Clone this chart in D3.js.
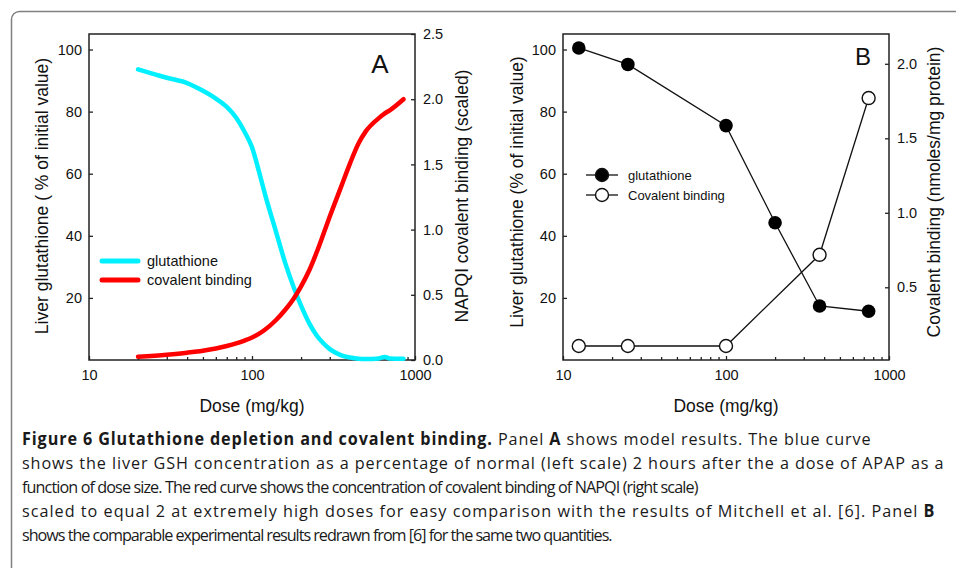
<!DOCTYPE html>
<html>
<head>
<meta charset="utf-8">
<script src="https://cdn.jsdelivr.net/npm/d3@7"></script>
<style>
  body { margin: 0; background: #fff; }
  svg { display: block; font-family: "Liberation Sans", Arial, sans-serif; }
</style>
</head>
<body>
<svg id="vis" width="956" height="568"></svg>
<script>
// ---- panel A : model results ----
var doseA = [20, 30, 40, 50, 60, 70, 80, 90, 100, 110, 120, 140, 160, 180, 200, 225, 250, 275, 300, 350, 400, 450, 500, 600, 650, 700, 850];
var gshA  = [93.6, 90.9, 89.2, 86.7, 84.2, 81.5, 78.0, 73.5, 68.5, 61, 53.5, 41.5, 31.2, 23.5, 17.5, 11.7, 7.8, 5.3, 3.5, 1.6, 0.8, 0.4, 0.3, 0.5, 1.0, 0.5, 0.4];
var bindA = [0.025, 0.041, 0.056, 0.071, 0.088, 0.107, 0.127, 0.149, 0.172, 0.2, 0.232, 0.305, 0.385, 0.47, 0.565, 0.69, 0.83, 0.97, 1.1, 1.32, 1.51, 1.66, 1.755, 1.855, 1.89, 1.915, 2.0];

// ---- panel B : experimental results ----
var doseGshB  = [12.5, 25, 100, 200, 375, 750];
var gshB      = [100.5, 95.2, 75.5, 44.2, 17.4, 15.7];
var doseBindB = [12.5, 25, 100, 375, 750];
var bindB     = [0.106, 0.106, 0.106, 0.718, 1.77];

var xTicks = [10, 100, 1000];
var xMinor = [20, 30, 40, 50, 60, 70, 80, 90, 200, 300, 400, 500, 600, 700, 800, 900];
var leftTicks = [20, 40, 60, 80, 100];
var rightTicksA = [0.0, 0.5, 1.0, 1.5, 2.0, 2.5];
var rightTicksB = [0.5, 1.0, 1.5, 2.0];

var captionLines = [
  [["Figure 6 Glutathione depletion and covalent binding.", true], [" Panel ", false], ["A", true], [" shows model results. The blue curve", false]],
  [["shows the liver GSH concentration as a percentage of normal (left scale) 2 hours after the a dose of APAP as a", false]],
  [["function of dose size. The red curve shows the concentration of covalent binding of NAPQI (right scale)", false]],
  [["scaled to equal 2 at extremely high doses for easy comparison with the results of Mitchell et al. [6]. Panel ", false], ["B", true]],
  [["shows the comparable experimental results redrawn from [6] for the same two quantities.", false]]
];
// right end of each caption line
var captionEnds = [872, 945, 698, 936, 612];

var svg = d3.select("#vis");

// outer frame (runs off the right and bottom edge)
svg.append("rect")
    .attr("x", 11.5).attr("y", 11.5)
    .attr("width", 990).attr("height", 620)
    .attr("rx", 8)
    .attr("fill", "none")
    .attr("stroke", "#808080")
    .attr("stroke-width", 1.5);

function drawPanel(p) {
  var g = svg.append("g");
  var x = d3.scaleLog().domain([10, 1000]).range([p.x0, p.x1]);
  var yl = d3.scaleLinear().domain([0, 105]).range([p.y1, p.y0]);
  var yr = d3.scaleLinear().domain(p.rightDomain).range([p.y1, p.y0]);

  // axes, ticks point inward
  g.append("g").attr("transform", "translate(0," + p.y1 + ")")
      .call(d3.axisBottom(x).tickValues(xTicks).tickFormat(d3.format("d")).tickSize(-4).tickPadding(10));
  g.append("g").attr("transform", "translate(0," + p.y1 + ")")
      .call(d3.axisBottom(x).tickValues(xMinor).tickFormat("").tickSize(-3));
  g.append("g").attr("transform", "translate(" + p.x0 + ",0)")
      .call(d3.axisLeft(yl).tickValues(leftTicks).tickSize(-4).tickPadding(7));
  g.append("g").attr("transform", "translate(" + p.x1 + ",0)")
      .call(d3.axisRight(yr).tickValues(p.rightTicks).tickFormat(d3.format(".1f")).tickSize(-4).tickPadding(8));

  g.selectAll(".domain").remove();
  g.selectAll(".tick line").attr("stroke", "#222").attr("stroke-width", 1.3);
  g.selectAll(".tick text").attr("font-size", 14.5).attr("fill", "#111")
      .attr("font-family", "Liberation Sans, Arial, sans-serif");

  g.append("rect")
      .attr("x", p.x0).attr("y", p.y0)
      .attr("width", p.x1 - p.x0).attr("height", p.y1 - p.y0)
      .attr("fill", "none").attr("stroke", "#222").attr("stroke-width", 1.5);

  // titles
  g.append("text").attr("x", (p.x0 + p.x1) / 2).attr("y", 412)
      .attr("text-anchor", "middle").attr("font-size", 17.5).attr("fill", "#111").text("Dose (mg/kg)");
  g.append("text").attr("transform", "translate(" + p.leftTitleX + "," + p.titleMid + ") rotate(-90)")
      .attr("text-anchor", "middle").attr("font-size", 17.5).attr("fill", "#111").text(p.leftTitle);
  g.append("text").attr("transform", "translate(" + p.rightTitleX + "," + p.titleMid + ") rotate(-90)")
      .attr("text-anchor", "middle").attr("font-size", 17.5).attr("fill", "#111").text(p.rightTitle);
  g.append("text").attr("x", p.letterX).attr("y", p.letterY)
      .attr("text-anchor", "middle").attr("font-size", p.letterSize).attr("fill", "#111").text(p.letter);

  return {g: g, x: x, yl: yl, yr: yr};
}

// ---------- Panel A ----------
var A = drawPanel({
  x0: 89, x1: 415, y0: 34, y1: 360,
  rightDomain: [0, 2.5], rightTicks: rightTicksA,
  leftTitle: "Liver glutathione ( % of initial value)", leftTitleX: 48,
  rightTitle: "NAPQI covalent binding (scaled)", rightTitleX: 468,
  titleMid: 196, letter: "A", letterX: 380, letterY: 73, letterSize: 26
});

var lineGsh = d3.line()
    .x(function(d, i) { return A.x(doseA[i]); })
    .y(function(d) { return A.yl(d); })
    .curve(d3.curveMonotoneX);
var lineBind = d3.line()
    .x(function(d, i) { return A.x(doseA[i]); })
    .y(function(d) { return A.yr(d); })
    .curve(d3.curveMonotoneX);

A.g.append("path").datum(gshA).attr("d", lineGsh)
    .attr("fill", "none").attr("stroke", "#00f0ff").attr("stroke-width", 4.5).attr("stroke-linecap", "round");
A.g.append("path").datum(bindA).attr("d", lineBind)
    .attr("fill", "none").attr("stroke", "#ff0000").attr("stroke-width", 4.5).attr("stroke-linecap", "round");

var legA = [["glutathione", "#00f0ff"], ["covalent binding", "#ff0000"]];
legA.forEach(function(d, i) {
  var y = 261 + i * 19;
  A.g.append("line").attr("x1", 102).attr("x2", 138).attr("y1", y).attr("y2", y)
      .attr("stroke", d[1]).attr("stroke-width", 5).attr("stroke-linecap", "round");
  A.g.append("text").attr("x", 147).attr("y", y).attr("dy", "0.35em")
      .attr("font-size", 14.5).attr("fill", "#111").text(d[0]);
});

// ---------- Panel B ----------
var B = drawPanel({
  x0: 563, x1: 889, y0: 34, y1: 360,
  rightDomain: [0.012, 2.2], rightTicks: rightTicksB,
  leftTitle: "Liver glutathione (% of initial value)", leftTitleX: 523,
  rightTitle: "Covalent binding (nmoles/mg protein)", rightTitleX: 940,
  titleMid: 192, letter: "B", letterX: 863, letterY: 65, letterSize: 24
});

B.g.append("path").datum(gshB)
    .attr("d", d3.line().x(function(d, i) { return B.x(doseGshB[i]); }).y(function(d) { return B.yl(d); }))
    .attr("fill", "none").attr("stroke", "#111").attr("stroke-width", 1.3);
B.g.append("path").datum(bindB)
    .attr("d", d3.line().x(function(d, i) { return B.x(doseBindB[i]); }).y(function(d) { return B.yr(d); }))
    .attr("fill", "none").attr("stroke", "#111").attr("stroke-width", 1.3);

B.g.selectAll("circle.gsh").data(gshB).enter().append("circle")
    .attr("class", "gsh")
    .attr("cx", function(d, i) { return B.x(doseGshB[i]); })
    .attr("cy", function(d) { return B.yl(d); })
    .attr("r", 6.8).attr("fill", "#000");
B.g.selectAll("circle.bind").data(bindB).enter().append("circle")
    .attr("class", "bind")
    .attr("cx", function(d, i) { return B.x(doseBindB[i]); })
    .attr("cy", function(d) { return B.yr(d); })
    .attr("r", 6.5).attr("fill", "#fff").attr("stroke", "#111").attr("stroke-width", 1.4);

var legB = [["glutathione", "#000"], ["Covalent binding", "#fff"]];
legB.forEach(function(d, i) {
  var y = 175 + i * 20;
  B.g.append("line").attr("x1", 586).attr("x2", 618).attr("y1", y).attr("y2", y)
      .attr("stroke", "#111").attr("stroke-width", 1.3);
  B.g.append("circle").attr("cx", 602).attr("cy", y).attr("r", 6.5)
      .attr("fill", d[1]).attr("stroke", "#111").attr("stroke-width", 1.4);
  B.g.append("text").attr("x", 628).attr("y", y).attr("dy", "0.35em")
      .attr("font-size", 13).attr("fill", "#111").text(d[0]);
});

// ---------- caption ----------
// same glyph squeeze for every line, letter spacing takes up the rest
var capTexts = captionLines.map(function(line) {
  var t = svg.append("text")
      .attr("x", 0).attr("y", 0)
      .attr("font-family", "Open Sans, Noto Sans, sans-serif")
      .attr("font-size", 17)
      .attr("fill", "#1a1a1a")
      .style("white-space", "pre");
  line.forEach(function(seg) {
    t.append("tspan").attr("font-weight", seg[1] ? "bold" : "normal").text(seg[0]);
  });
  return t;
});
var fit = capTexts.map(function(t, i) {
  return (captionEnds[i] - 22) / t.node().getComputedTextLength();
});
var sx = (fit[1] + fit[2]) / 2;
capTexts.forEach(function(t, i) {
  var w = t.node().getComputedTextLength();
  var n = t.text().length;
  var ls = ((captionEnds[i] - 22) / sx - w) / n;
  t.attr("letter-spacing", ls.toFixed(3))
   .attr("transform", "translate(22," + (445 + i * 24) + ") scale(" + sx.toFixed(4) + ",1)");
});
</script>
</body>
</html>
